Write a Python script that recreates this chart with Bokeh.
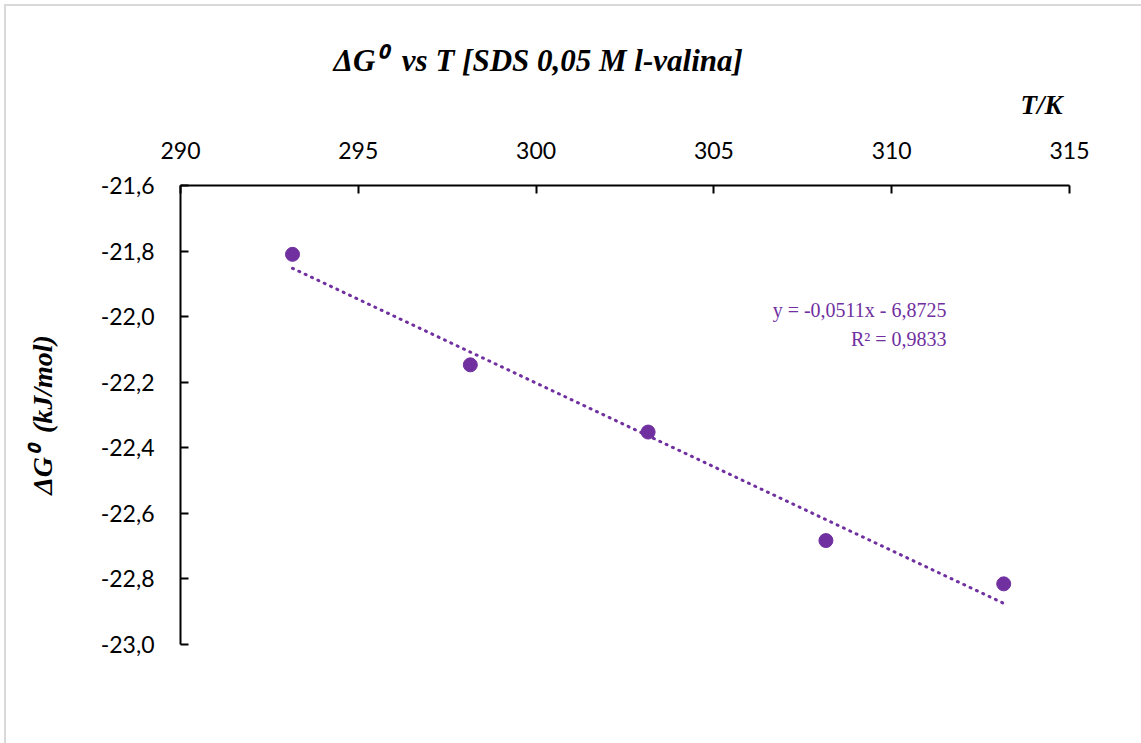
from bokeh.plotting import figure
from bokeh.models import Range1d, FixedTicker, CustomJSTickFormatter, Label, Title
from bokeh.embed import file_html
from bokeh.resources import INLINE

# Temperature (K) and standard Gibbs energy (kJ/mol)
temperature = [293.15, 298.15, 303.15, 308.15, 313.15]
delta_g = [-21.810, -22.147, -22.352, -22.683, -22.815]

# Linear trend stated on the chart
slope = -0.0511
intercept = -6.8725
r_squared = 0.9833

x_ticks = [290, 295, 300, 305, 310, 315]
y_ticks = [-23.0, -22.8, -22.6, -22.4, -22.2, -22.0, -21.8, -21.6]

X0, X1 = 290, 315
Y0, Y1 = -23.0, -21.6

W, H = 1141, 743
LEFT, RIGHT, TOP, BOTTOM = 180, 1069, 185, 644
XPX = (RIGHT - LEFT) / (X1 - X0)
YPX = (BOTTOM - TOP) / (Y1 - Y0)


def cx(px):
    return X0 + (px - LEFT) / XPX


def cy(py):
    return Y1 - (py - TOP) / YPX


PURPLE = "#7030A0"
SERIF = "Liberation Serif"
NBSP = "\u00a0"

p = figure(width=W, height=H, output_backend="svg", toolbar_location=None,
           x_axis_location="above",
           x_range=Range1d(X0, X1), y_range=Range1d(Y0, Y1),
           min_border_left=LEFT, min_border_right=W - RIGHT,
           min_border_top=TOP, min_border_bottom=H - BOTTOM)
p.outline_line_color = None
p.grid.visible = False
p.background_fill_color = "white"
p.border_fill_color = None
p.styles = {
    "background": "linear-gradient(#D9D9D9, #D9D9D9) 4px 4px / 2px 100% no-repeat, "
                  "linear-gradient(#D9D9D9, #D9D9D9) 4px 4px / 100% 2px no-repeat, white",
}

for ax in (p.xaxis[0], p.yaxis[0]):
    ax.axis_line_color = "black"
    ax.axis_line_width = 2
    ax.major_tick_line_color = "black"
    ax.major_tick_line_width = 2
    ax.major_tick_in = 8
    ax.major_tick_out = 0
    ax.minor_tick_line_color = None
    ax.major_label_text_font = "Lato"
    ax.major_label_text_font_size = "23px"
    ax.major_label_text_color = "black"

p.xaxis[0].ticker = FixedTicker(ticks=x_ticks)
p.yaxis[0].ticker = FixedTicker(ticks=y_ticks)
p.xaxis[0].major_label_standoff = 27
p.yaxis[0].major_label_standoff = 26
p.yaxis[0].formatter = CustomJSTickFormatter(
    code="return tick.toFixed(1).replace('.', ',');")

p.yaxis[0].axis_label = "\u0394G\u2070" + NBSP + NBSP + "(kJ/mol)"
p.yaxis[0].axis_label_text_font = SERIF
p.yaxis[0].axis_label_text_font_style = "bold italic"
p.yaxis[0].axis_label_text_font_size = "28px"
p.yaxis[0].axis_label_text_color = "black"
p.yaxis[0].axis_label_standoff = 40

# thin blank strip between the top tick labels and the axis name
p.add_layout(Title(text=NBSP, text_font_size="2px"), "above")

# Axis name above the top axis, flush right
p.add_layout(Title(text="T/K", align="right", offset=7,
                   text_font=SERIF, text_font_style="bold italic", text_font_size="27px",
                   text_color="black"), "above")

p.title.text = "\u0394G\u2070" + NBSP + NBSP + "vs T [SDS 0,05 M l-valina]"
p.title.align = "left"
p.title.offset = 153
p.title.text_font = SERIF
p.title.text_font_style = "bold italic"
p.title.text_font_size = "31px"
p.title.text_color = "black"

# Trendline from the stated equation
tx = [min(temperature), max(temperature)]
ty = [slope * t + intercept for t in tx]
p.line(tx, ty, line_color=PURPLE, line_width=3, line_dash="1 6", line_cap="round")

p.scatter(temperature, delta_g, size=14, fill_color=PURPLE, line_color=PURPLE)

eq = "y = %sx - %s" % (("%.4f" % slope).replace(".", ","), ("%.4f" % -intercept).replace(".", ","))
p.add_layout(Label(x=cx(946), y=cy(309), text=eq,
                   text_font=SERIF, text_font_size="20px", text_color=PURPLE,
                   text_align="right", text_baseline="alphabetic"))
p.add_layout(Label(x=cx(946), y=cy(338), text="R\u00b2 = " + ("%.4f" % r_squared).replace(".", ","),
                   text_font=SERIF, text_font_size="20px", text_color=PURPLE,
                   text_align="right", text_baseline="alphabetic"))

open("out.html", "w").write(file_html(p, INLINE))
